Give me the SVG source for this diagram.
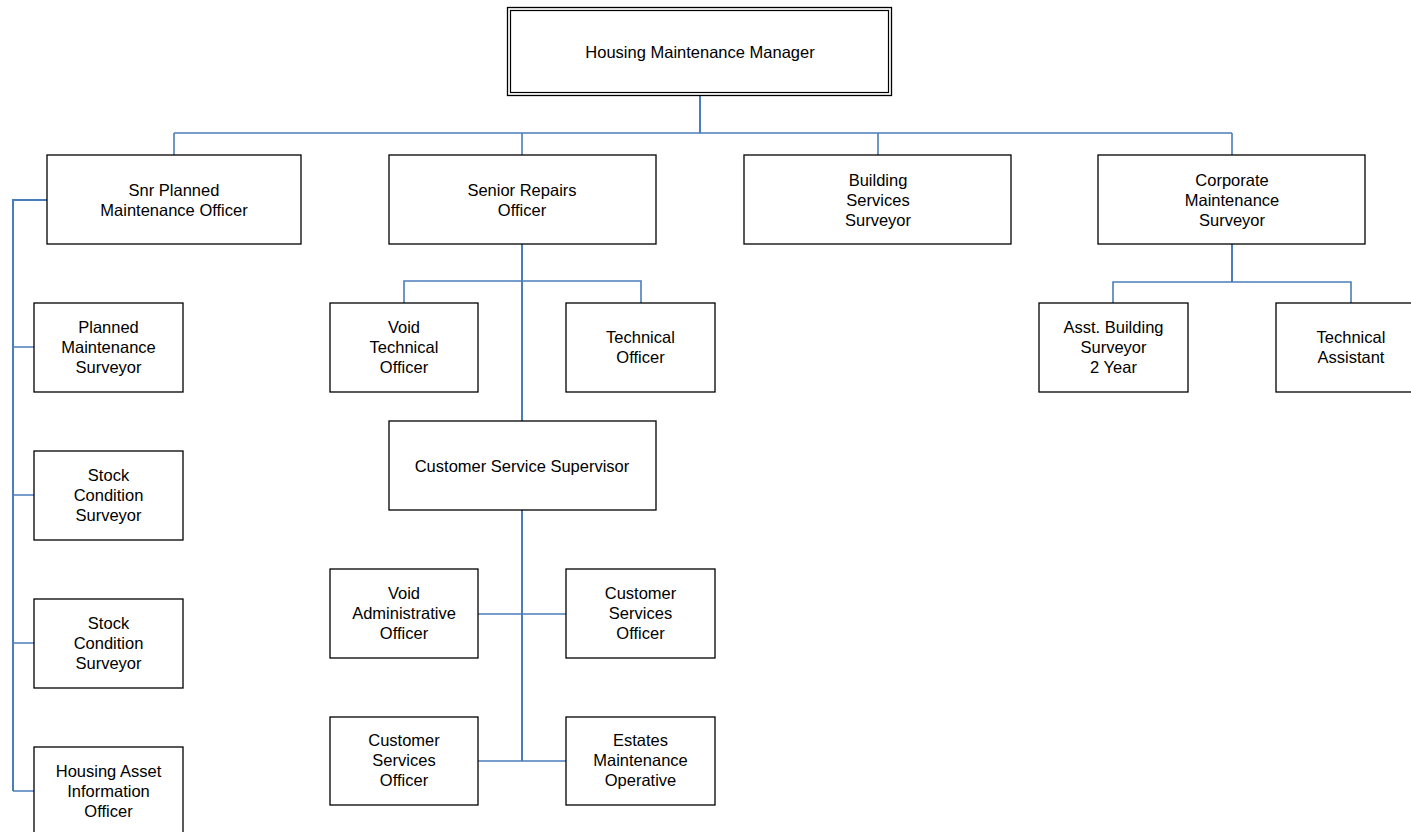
<svg xmlns="http://www.w3.org/2000/svg" width="1411" height="832" viewBox="0 0 1411 832">
<style>
.box{fill:#fff;stroke:#000;stroke-width:1.3}
.dbl{fill:none;stroke:#000;stroke-width:1.2}
.t{font-family:"Liberation Sans",Arial,sans-serif;font-size:16.5px;fill:#000;text-anchor:middle}
.c{fill:none;stroke:#4A7EBB;stroke-width:1.6}
.cb{fill:none;stroke:#4A7EBB;stroke-width:2}
</style>
<rect width="1411" height="832" fill="#fff"/>
<g id="connectors">
<path class="cb" d="M700 96V133"/>
<path class="c" d="M174 133H1232M174 133V155M522 133V155M878 133V155M1232 133V155"/>
<path class="cb" d="M47 200H13V791"/>
<path class="c" d="M13 347H34M13 495H34M13 643H34M13 791H34"/>
<path class="cb" d="M522 244V421"/>
<path class="c" d="M404 303V281H641V303"/>
<path class="cb" d="M522 510V761"/>
<path class="c" d="M478 614H566M478 761H566"/>
<path class="cb" d="M1232 244V282"/>
<path class="c" d="M1113 303V282H1351V303"/>
</g>
<g id="n-manager">
<rect class="box" x="507.5" y="7.5" width="384" height="88"/>
<rect class="dbl" x="510.5" y="10.5" width="378" height="82"/>
<text class="t" x="700" y="57.5">Housing Maintenance Manager</text>
</g>
<g id="n-snr-planned">
<rect class="box" x="47" y="155" width="254" height="89"/>
<text class="t" x="174" y="195.5">Snr Planned</text>
<text class="t" x="174" y="215.5">Maintenance Officer</text>
</g>
<g id="n-senior-repairs">
<rect class="box" x="389" y="155" width="267" height="89"/>
<text class="t" x="522" y="195.5">Senior Repairs</text>
<text class="t" x="522" y="215.5">Officer</text>
</g>
<g id="n-building-services">
<rect class="box" x="744" y="155" width="267" height="89"/>
<text class="t" x="878" y="185.5">Building</text>
<text class="t" x="878" y="205.5">Services</text>
<text class="t" x="878" y="225.5">Surveyor</text>
</g>
<g id="n-corporate">
<rect class="box" x="1098" y="155" width="267" height="89"/>
<text class="t" x="1232" y="185.5">Corporate</text>
<text class="t" x="1232" y="205.5">Maintenance</text>
<text class="t" x="1232" y="225.5">Surveyor</text>
</g>
<g id="n-planned-surveyor">
<rect class="box" x="34" y="303" width="149" height="89"/>
<text class="t" x="108.5" y="332.5">Planned</text>
<text class="t" x="108.5" y="352.5">Maintenance</text>
<text class="t" x="108.5" y="372.5">Surveyor</text>
</g>
<g id="n-stock1">
<rect class="box" x="34" y="451" width="149" height="89"/>
<text class="t" x="108.5" y="480.5">Stock</text>
<text class="t" x="108.5" y="500.5">Condition</text>
<text class="t" x="108.5" y="520.5">Surveyor</text>
</g>
<g id="n-stock2">
<rect class="box" x="34" y="599" width="149" height="89"/>
<text class="t" x="108.5" y="628.5">Stock</text>
<text class="t" x="108.5" y="648.5">Condition</text>
<text class="t" x="108.5" y="668.5">Surveyor</text>
</g>
<g id="n-housing-asset">
<rect class="box" x="34" y="747" width="149" height="89"/>
<text class="t" x="108.5" y="776.5">Housing Asset</text>
<text class="t" x="108.5" y="796.5">Information</text>
<text class="t" x="108.5" y="816.5">Officer</text>
</g>
<g id="n-void-technical">
<rect class="box" x="330" y="303" width="148" height="89"/>
<text class="t" x="404" y="332.5">Void</text>
<text class="t" x="404" y="352.5">Technical</text>
<text class="t" x="404" y="372.5">Officer</text>
</g>
<g id="n-technical-officer">
<rect class="box" x="566" y="303" width="149" height="89"/>
<text class="t" x="640.5" y="342.5">Technical</text>
<text class="t" x="640.5" y="362.5">Officer</text>
</g>
<g id="n-cs-supervisor">
<rect class="box" x="389" y="421" width="267" height="89"/>
<text class="t" x="522" y="471.5">Customer Service Supervisor</text>
</g>
<g id="n-void-admin">
<rect class="box" x="330" y="569" width="148" height="89"/>
<text class="t" x="404" y="598.5">Void</text>
<text class="t" x="404" y="618.5">Administrative</text>
<text class="t" x="404" y="638.5">Officer</text>
</g>
<g id="n-cso1">
<rect class="box" x="566" y="569" width="149" height="89"/>
<text class="t" x="640.5" y="598.5">Customer</text>
<text class="t" x="640.5" y="618.5">Services</text>
<text class="t" x="640.5" y="638.5">Officer</text>
</g>
<g id="n-cso2">
<rect class="box" x="330" y="717" width="148" height="88"/>
<text class="t" x="404" y="745.5">Customer</text>
<text class="t" x="404" y="765.5">Services</text>
<text class="t" x="404" y="785.5">Officer</text>
</g>
<g id="n-estates">
<rect class="box" x="566" y="717" width="149" height="88"/>
<text class="t" x="640.5" y="745.5">Estates</text>
<text class="t" x="640.5" y="765.5">Maintenance</text>
<text class="t" x="640.5" y="785.5">Operative</text>
</g>
<g id="n-asst-building">
<rect class="box" x="1039" y="303" width="149" height="89"/>
<text class="t" x="1113.5" y="332.5">Asst. Building</text>
<text class="t" x="1113.5" y="352.5">Surveyor</text>
<text class="t" x="1113.5" y="372.5">2 Year</text>
</g>
<g id="n-technical-assistant">
<rect class="box" x="1276" y="303" width="149" height="89"/>
<text class="t" x="1351" y="342.5">Technical</text>
<text class="t" x="1351" y="362.5">Assistant</text>
</g>
</svg>
